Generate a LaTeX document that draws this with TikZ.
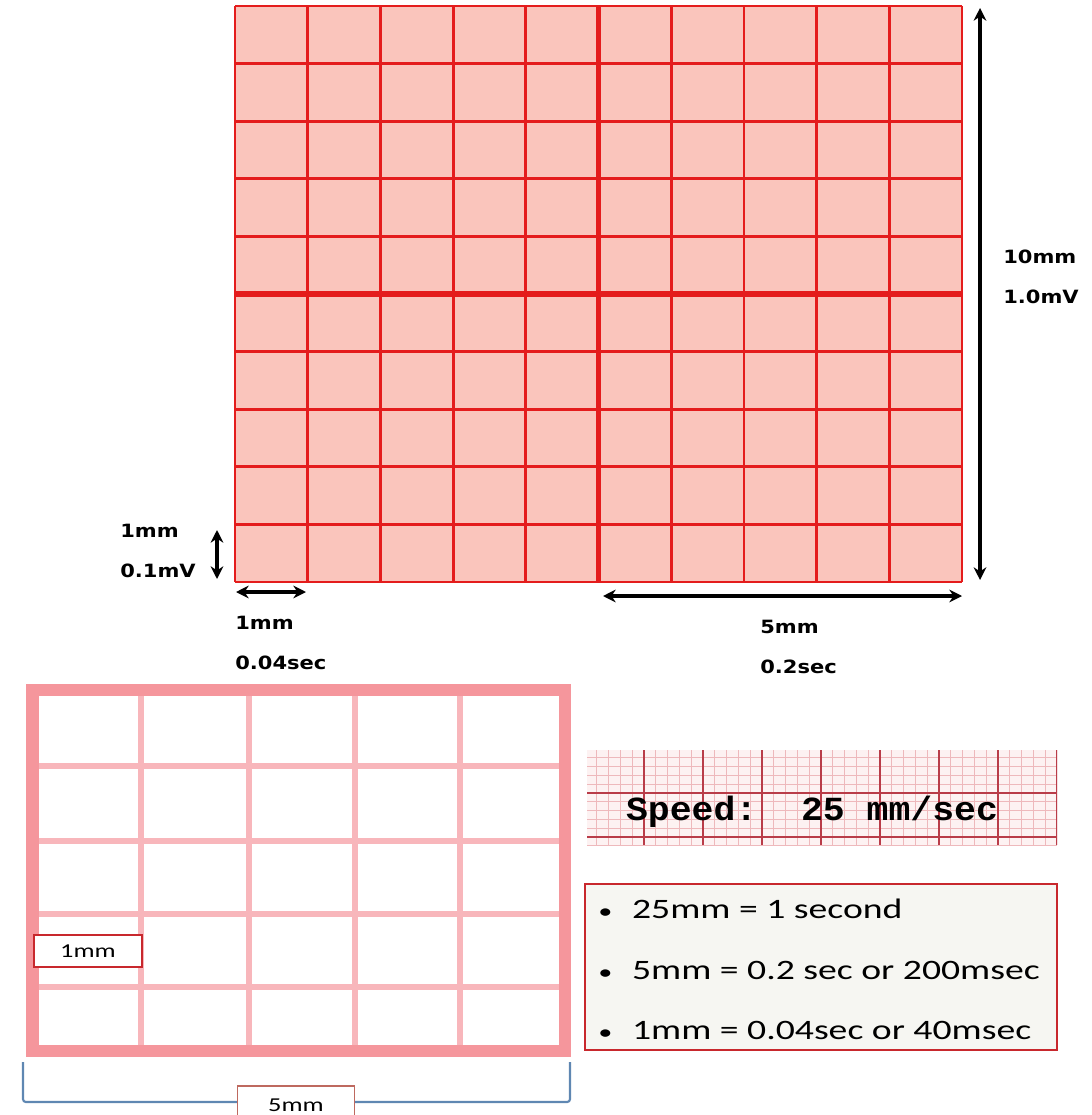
\documentclass[tikz,border=0pt]{standalone}
\usepackage{fontspec}
\setmainfont{Carlito}
\newfontfamily\dimfont[FakeStretch=1.15]{DejaVu Sans}
\newfontfamily\notefont[FakeStretch=1.34]{Carlito}
\newfontfamily\speedfont[FakeStretch=1.08]{Liberation Mono}
\usetikzlibrary{arrows.meta,positioning}
\definecolor{ecgFill}{RGB}{250,197,188}
\definecolor{ecgRed}{RGB}{228,28,28}
\definecolor{paperBorder}{RGB}{245,150,156}
\definecolor{paperLine}{RGB}{248,182,187}
\definecolor{bracketBlue}{RGB}{95,135,178}
\definecolor{boxRed}{RGB}{200,40,45}
\definecolor{boxFill}{RGB}{246,246,242}
\definecolor{tagRed}{RGB}{190,105,95}
\definecolor{stripBg}{RGB}{253,242,242}
\definecolor{stripMinor}{RGB}{238,185,188}
\definecolor{stripMajor}{RGB}{185,60,72}

\begin{document}
\begin{tikzpicture}[x=0.025cm, y=-0.025cm, >=Stealth,
  dimarrow/.style={{Stealth[length=9pt,width=9pt]}-{Stealth[length=9pt,width=9pt]}, line width=2.4pt, black},
  dimlabel/.style={font=\dimfont\bfseries\fontsize{13}{15}\selectfont, inner sep=0pt, anchor=west},
  notelabel/.style={font=\notefont\fontsize{20}{24}\selectfont, inner sep=0pt, anchor=west}]
  \useasboundingbox (0,0) rectangle (1091,1115);

  % big paper, 10 x 10 small squares
  \fill[ecgFill] (235,6) rectangle (962,582);
  \foreach \i in {0,...,10}{
    \draw[ecgRed, line width=2pt] ({235+72.7*\i},6) -- ({235+72.7*\i},582);
    \draw[ecgRed, line width=2pt] (235,{6+57.6*\i}) -- (962,{6+57.6*\i});
  }
  \draw[ecgRed, line width=4pt] (598.5,6) -- (598.5,582);
  \draw[ecgRed, line width=4pt] (235,294) -- (962,294);

  \coordinate (rTop) at (980,8);
  \coordinate (rBot) at (980,580);
  \coordinate (vTop) at (217,530);
  \coordinate (vBot) at (217,579);
  \coordinate (hL) at (236,592);
  \coordinate (hR) at (306,592);
  \coordinate (bL) at (603,596);
  \coordinate (bR) at (962,596);
  \draw[dimarrow] (rTop) -- (rBot);
  \draw[dimarrow] (vTop) -- (vBot);
  \draw[dimarrow] (hL) -- (hR);
  \draw[dimarrow] (bL) -- (bR);

  \node[dimlabel] (tenmm) at (1003,257) {10mm};
  \node[dimlabel] (onemv) at (1003,297) {1.0mV};
  \node[dimlabel] (vmm) at (120,531) {1mm};
  \node[dimlabel] (vmv) at (120,571) {0.1mV};
  \node[dimlabel] (hmm) at (235,623) {1mm};
  \node[dimlabel] (hsec) at (235,663) {0.04sec};
  \node[dimlabel] (fivemm) at (760,627) {5mm};
  \node[dimlabel] (twosec) at (760,667) {0.2sec};

  % one large square
  \foreach \x in {141,249,355,460}
    \draw[paperLine, line width=4pt] (\x,690) -- (\x,1051);
  \foreach \y in {766,841,914,987}
    \draw[paperLine, line width=4pt] (32,\y) -- (565,\y);
  \draw[paperBorder, line width=9pt] (32.5,690) rectangle (565,1051);

  \node[draw=boxRed, fill=white, line width=1.3pt, minimum width=2.7cm, minimum height=0.8cm,
        font=\notefont\fontsize{14}{16}\selectfont] (onebox) at (88,951) {1mm};

  \coordinate (brL) at (23,1062);
  \coordinate (brLB) at (23,1102);
  \coordinate (brRB) at (570,1102);
  \coordinate (brR) at (570,1062);
  \draw[bracketBlue, line width=1.5pt, rounded corners=2pt] (brL) -- (brLB) -- (brRB) -- (brR);
  \node[draw=tagRed, fill=white, line width=0.8pt, minimum width=2.93cm, minimum height=0.95cm,
        font=\notefont\fontsize{14}{16}\selectfont] (fivebox) at (296,1105) {5mm};

  % speed strip
  \begin{scope}
    \clip (587,750) rectangle (1057,845);
    \fill[stripBg] (587,750) rectangle (1057,845);
    \foreach \k in {0,...,40}
      \draw[stripMinor, line width=0.6pt] ({585+11.8*\k},750) -- ++(0,95);
    \foreach \k in {0,...,11}
      \draw[stripMinor, line width=0.6pt] (587,{749+8.8*\k}) -- ++(470,0);
    \foreach \k in {0,...,8}
      \draw[stripMajor, line width=1pt] ({585+59*\k},750) -- ++(0,95);
    \foreach \k in {0,...,2}
      \draw[stripMajor, line width=1pt] (587,{749+44*\k}) -- ++(470,0);
  \end{scope}
  \node[font=\speedfont\bfseries\fontsize{24}{28}\selectfont, inner sep=0pt] (speed) at (812,812) {Speed:~~25 mm/sec};

  % notes box
  \node[draw=boxRed, fill=boxFill, line width=1.5pt, minimum width=11.8cm, minimum height=4.15cm] (notes) at (821,967) {};
  \node[notelabel] (noteA) at (598,909) {{\fontsize{15}{15}\selectfont\textbullet}\hspace{14pt}25mm = 1 second};
  \node[notelabel] (noteB) at (598,970) {{\fontsize{15}{15}\selectfont\textbullet}\hspace{14pt}5mm = 0.2 sec or 200msec};
  \node[notelabel] (noteC) at (598,1030) {{\fontsize{15}{15}\selectfont\textbullet}\hspace{14pt}1mm = 0.04sec or 40msec};
\end{tikzpicture}
\end{document}
